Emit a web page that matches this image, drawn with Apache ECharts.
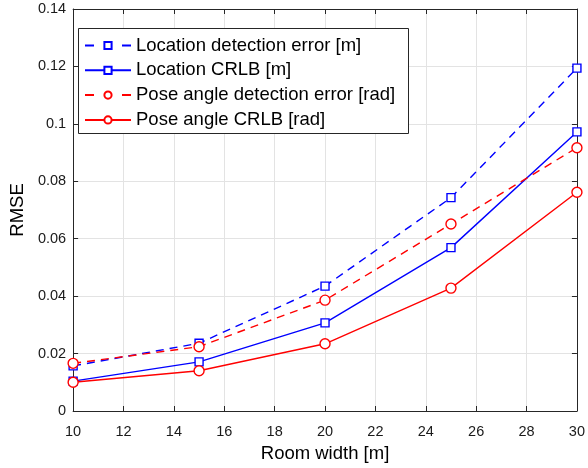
<!DOCTYPE html>
<html><head><meta charset="utf-8">
<script src="https://cdn.jsdelivr.net/npm/echarts@6/dist/echarts.min.js"></script>
<style>html,body{margin:0;padding:0;background:#fff}#c{width:588px;height:468px}</style>
</head><body><div id="c"></div>
<script>
const roomWidth = [10, 15, 20, 25, 30];
const locDetErr = [0.0157, 0.0236, 0.0435, 0.0743, 0.1194];
const locCRLB = [0.0104, 0.0171, 0.0307, 0.0569, 0.0972];
const poseDetErr = [0.0166, 0.0224, 0.0386, 0.0651, 0.0917];
const poseCRLB = [0.0100, 0.0140, 0.0234, 0.0428, 0.0762];
const seriesNames = ['Location detection error [m]', 'Location CRLB [m]', 'Pose angle detection error [rad]', 'Pose angle CRLB [rad]'];
const seriesDashed = [true, false, true, false];

const FONT = '"Liberation Sans", Arial, Helvetica, sans-serif';
const AX = '#262626';
function pairs(ys){ return roomWidth.map((x,i)=>[x, ys[i]]); }
function mk(name, ys, color, dashed, sym, size){
  return {
    name, type:'line', data: pairs(ys), xAxisIndex:0, yAxisIndex:0,
    symbol: sym, symbolSize: size, showAllSymbol: true,
    lineStyle:{color, width:1.4, type: dashed ? [8,6] : 'solid'},
    itemStyle:{color:'#fff', borderColor: color, borderWidth:1.4},
    emphasis:{disabled:true}, animation:false, z: 2
  };
}
const legendTops = [35, 59.8, 84.6, 109.4];
const legends = seriesNames.map((n, i) => {
  const l = {
    data:[n], orient:'vertical', left:84, top: legendTops[i], padding:0,
    itemWidth:46, itemHeight:9, itemGap:0, selectedMode:false, z:5,
    textStyle:{fontFamily:FONT, fontSize:18.5, color:'#000', lineHeight:21}
  };
  if (seriesDashed[i]) l.lineStyle = {type:[9,28]};
  return l;
});
const chart = echarts.init(document.getElementById('c'), null, {renderer:'canvas'});
chart.setOption({
  animation:false,
  backgroundColor:'#fff',
  grid:{left:69, right:8, top:9, bottom:57, containLabel:false},
  graphic:[{
    type:'rect', left:78, top:28, z:4,
    shape:{width:330, height:105},
    style:{fill:'#fff', stroke:AX, lineWidth:1}
  }],
  legend: legends,
  xAxis:[{
    type:'value', min:10, max:30, interval:2,
    name:'Room width [m]', nameLocation:'middle', nameGap:33,
    nameTextStyle:{fontFamily:FONT, fontSize:18.5, color:'#000'},
    axisLine:{onZero:false, lineStyle:{color:AX, width:1}},
    axisTick:{inside:true, length:5, lineStyle:{color:AX}},
    axisLabel:{fontFamily:FONT, fontSize:14.5, color:'#1a1a1a', margin:13},
    splitLine:{show:true, lineStyle:{color:'#e3e3e3', width:1}}
  },{
    type:'value', min:10, max:30, interval:2, position:'top',
    axisLine:{onZero:false, lineStyle:{color:AX, width:1}},
    axisTick:{inside:true, length:5, lineStyle:{color:AX}},
    axisLabel:{show:false}, splitLine:{show:false}
  }],
  yAxis:[{
    type:'value', min:0, max:0.14, interval:0.02,
    name:'RMSE', nameLocation:'middle', nameGap:43,
    nameTextStyle:{fontFamily:FONT, fontSize:18.5, color:'#000'},
    axisLine:{onZero:false, lineStyle:{color:AX, width:1}},
    axisTick:{inside:true, length:5, lineStyle:{color:AX}},
    axisLabel:{fontFamily:FONT, fontSize:14.5, color:'#1a1a1a', margin:7,
      formatter: v => String(parseFloat(v.toFixed(2)))},
    splitLine:{show:true, lineStyle:{color:'#e3e3e3', width:1}}
  },{
    type:'value', min:0, max:0.14, interval:0.02, position:'right',
    axisLine:{onZero:false, lineStyle:{color:AX, width:1}},
    axisTick:{inside:true, length:5, lineStyle:{color:AX}},
    axisLabel:{show:false}, splitLine:{show:false}
  }],
  series:[
    mk(seriesNames[0], locDetErr, '#0000ff', seriesDashed[0], 'rect', 8),
    mk(seriesNames[1], locCRLB, '#0000ff', seriesDashed[1], 'rect', 8),
    mk(seriesNames[2], poseDetErr, '#ff0000', seriesDashed[2], 'circle', 10),
    mk(seriesNames[3], poseCRLB, '#ff0000', seriesDashed[3], 'circle', 10)
  ]
});
</script></body></html>
